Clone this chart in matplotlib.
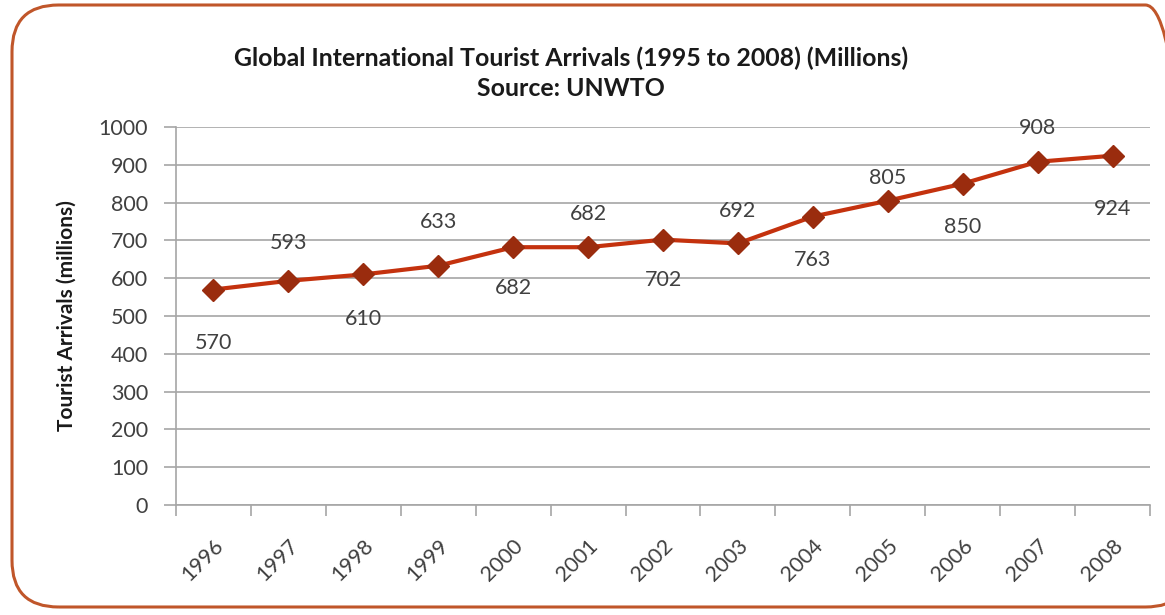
import matplotlib
matplotlib.use("Agg")
import matplotlib.pyplot as plt
import matplotlib.transforms as mtransforms
from matplotlib.patches import FancyBboxPatch

years = ["1996", "1997", "1998", "1999", "2000", "2001", "2002",
         "2003", "2004", "2005", "2006", "2007", "2008"]
arrivals = [570, 593, 610, 633, 682, 682, 702, 692, 763, 805, 850, 908, 924]
# label offsets in pixels (negative = below)
label_dy = [-53, 38, -45, 44, -41, 33, -40, 32, -43, 23, -43, 34, -53]

plt.rcParams['font.family'] = ['Lato', 'DejaVu Sans']

fig = plt.figure(figsize=(11.65, 6.15), dpi=100)
fig.patch.set_facecolor('white')

border = FancyBboxPatch((12 / 1165, 8 / 615), 1180 / 1165, 602 / 615,
                        boxstyle="round,pad=0,rounding_size=0.04",
                        transform=fig.transFigure, facecolor='none',
                        edgecolor='#c0562a', linewidth=2.2, zorder=-1,
                        mutation_aspect=1165 / 615)
fig.patches.append(border)

ax = fig.add_axes([176 / 1165, (615 - 505) / 615, (1150 - 176) / 1165, 378 / 615])
ax.set_facecolor('none')

x = list(range(len(years)))
ax.plot(x, arrivals, color='#c4320e', linewidth=3.0, marker='D',
        markersize=11.5, markerfacecolor='#9a2c0e', markeredgecolor='#9a2c0e',
        zorder=3)

for xi, v, dy in zip(x, arrivals, label_dy):
    ax.annotate(str(v), (xi, v), xytext=(0, dy * 0.72), textcoords='offset points',
                ha='center', va='center', fontsize=15.5, color='#404040')

ax.set_xlim(-0.5, len(years) - 0.5)
ax.set_ylim(0, 1000)
ax.set_yticks(range(0, 1001, 100))
ax.yaxis.grid(True, color='#a6a6a6', linewidth=1.2)
ax.set_axisbelow(True)

ax.set_xticks([i - 0.5 for i in range(len(years) + 1)], minor=False)
ax.set_xticklabels([])
ax.set_xticks(x, minor=True)
ax.set_xticklabels(years, minor=True, rotation=45, ha='right',
                   rotation_mode='anchor', fontsize=15.5, color='#404040')
shift = mtransforms.ScaledTranslation(-6 / 100, 0, fig.dpi_scale_trans)
for lbl in ax.get_xticklabels(minor=True):
    lbl.set_transform(lbl.get_transform() + shift)
ax.tick_params(axis='x', which='major', length=8, color='#a6a6a6', width=1.2)
ax.tick_params(axis='x', which='minor', length=0, pad=22)
ax.tick_params(axis='y', length=9, color='#a6a6a6', width=1.2,
               labelsize=15.5, labelcolor='#404040', pad=11)

for s in ['top', 'right']:
    ax.spines[s].set_visible(False)
for s in ['left', 'bottom']:
    ax.spines[s].set_color('#a6a6a6')
    ax.spines[s].set_linewidth(1.2)

ax.set_ylabel('Tourist Arrivals (millions)', fontsize=15, fontweight='bold',
              color='#1a1a1a', labelpad=16)

fig.text(571 / 1165, 1 - 58 / 615, 'Global International Tourist Arrivals (1995 to 2008) (Millions)',
         ha='center', va='center', fontsize=17.9, fontweight='bold', color='#1a1a1a')
fig.text(571 / 1165, 1 - 88 / 615, 'Source: UNWTO',
         ha='center', va='center', fontsize=17.9, fontweight='bold', color='#1a1a1a')

fig.savefig('out.png', dpi=100, facecolor='white')
